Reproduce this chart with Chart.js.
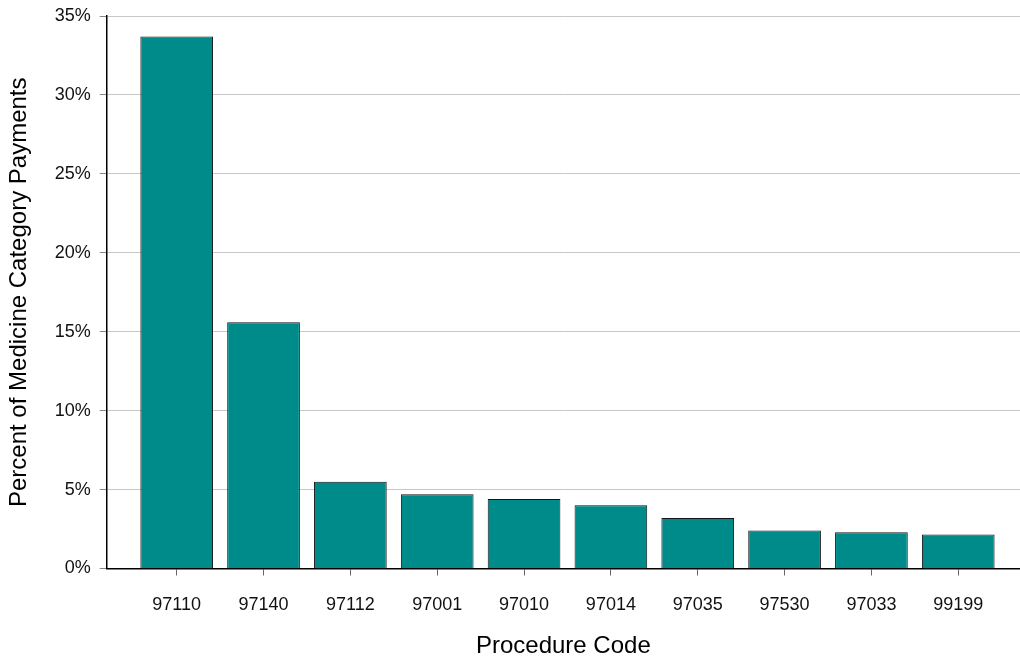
<!DOCTYPE html>
<html>
<head>
<meta charset="utf-8">
<script src="https://cdn.jsdelivr.net/npm/chart.js@4/dist/chart.umd.min.js"></script>
<style>
  html, body { margin: 0; padding: 0; background: #fff; }
  #wrap { width: 1020px; height: 658px; position: relative; }
</style>
</head>
<body>
<div id="wrap"><canvas id="grafico"></canvas></div>
<script>
// procedure codes and share of medicine category payments (%)
const codes = ['97110', '97140', '97112', '97001', '97010', '97014', '97035', '97530', '97033', '99199'];
const shares = [33.7, 15.6, 5.5, 4.7, 4.4, 4.0, 3.2, 2.4, 2.3, 2.15];
const yTicks = [0, 5, 10, 15, 20, 25, 30, 35];

const puntos = codes.map(function(c, i) {
    return {x: i, y: shares[i]};
});

const fuente = 'Liberation Sans, Arial, sans-serif';

const ctx = document.getElementById('grafico').getContext('2d');

new Chart(ctx, {
    type: 'bar',
    data: {
        datasets: [{
            data: puntos,
            backgroundColor: '#008b8b',
            borderColor: '#141414',
            borderWidth: 1,
            barPercentage: 0.837,
            categoryPercentage: 1
        }]
    },
    options: {
        responsive: true,
        maintainAspectRatio: false,
        animation: false,
        layout: { padding: { top: 16, right: 0, left: 0, bottom: 0 } },
        plugins: {
            legend: { display: false },
            tooltip: { enabled: false }
        },
        scales: {
            x: {
                type: 'linear',
                offset: false,
                min: -0.806,
                max: 9.711,
                afterBuildTicks: function(scale) {
                    scale.ticks = codes.map(function(c, i) { return {value: i}; });
                },
                afterFit: function(scale) { scale.height = 89.5; },
                ticks: {
                    color: '#111',
                    padding: 19,
                    maxRotation: 0,
                    autoSkip: false,
                    font: { family: fuente, size: 18 },
                    callback: function(v) { return codes[v]; }
                },
                grid: {
                    offset: false,
                    drawOnChartArea: false,
                    tickLength: 7,
                    tickColor: '#666'
                },
                border: { display: true, color: '#000', width: 1.5 },
                title: {
                    display: true,
                    text: 'Procedure Code',
                    color: '#000',
                    padding: { top: 0, bottom: 0 },
                    font: { family: fuente, size: 24, lineHeight: 1 }
                }
            },
            y: {
                min: 0,
                max: 35,
                afterBuildTicks: function(scale) {
                    scale.ticks = yTicks.map(function(v) { return {value: v}; });
                },
                afterFit: function(scale) {
                    scale.width = 106.7;
                    scale.paddingTop = 0;
                    scale.paddingBottom = 0;
                },
                ticks: {
                    color: '#111',
                    padding: 9,
                    font: { family: fuente, size: 18, lineHeight: 1 },
                    callback: function(v) { return v + '%'; }
                },
                grid: {
                    color: '#c8c8c8',
                    lineWidth: 1,
                    tickLength: 7,
                    tickColor: '#888'
                },
                border: { display: true, color: '#000', width: 1.5 },
                title: {
                    display: true,
                    text: 'Percent of Medicine Category Payments',
                    color: '#000',
                    padding: { top: 7, bottom: 0 },
                    font: { family: fuente, size: 24, lineHeight: 1 }
                }
            }
        }
    }
});
</script>
</body>
</html>
